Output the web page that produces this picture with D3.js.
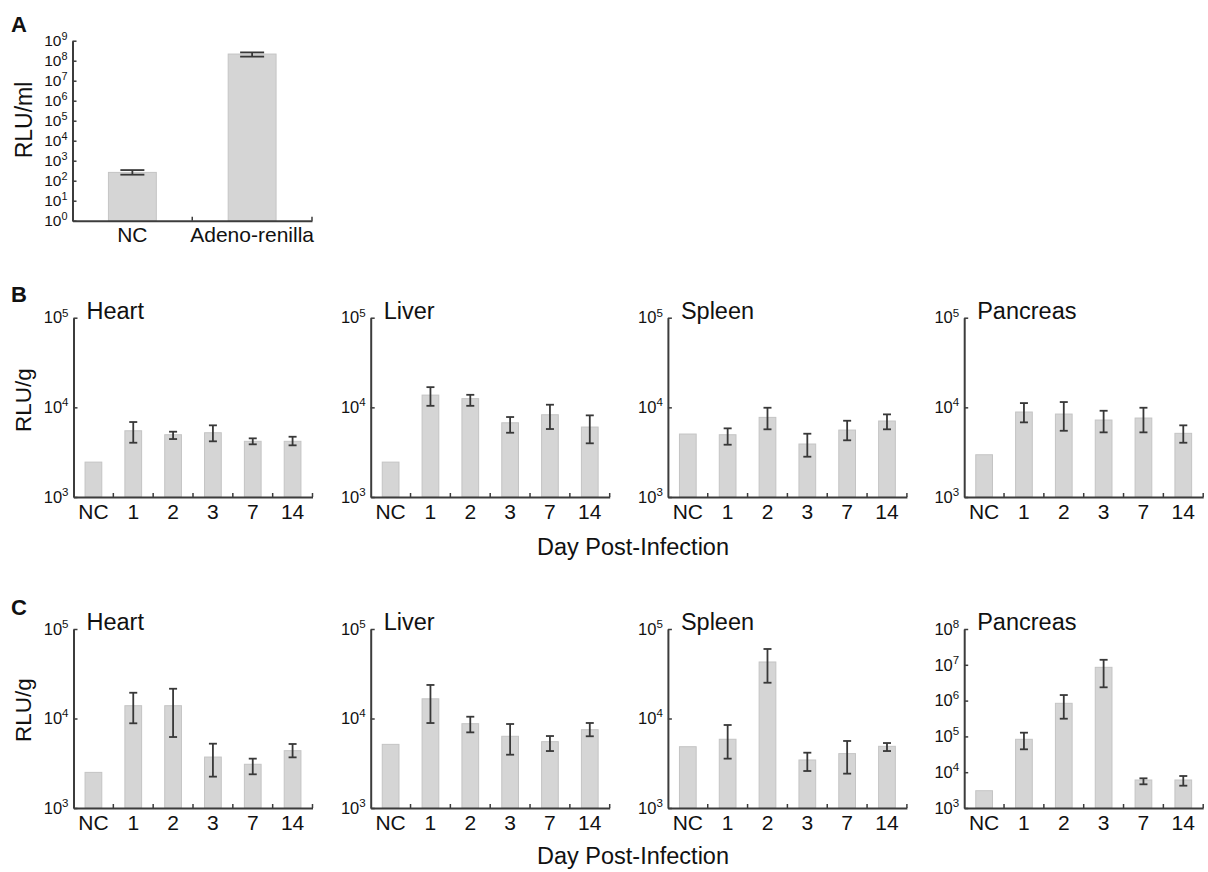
<!DOCTYPE html>
<html><head><meta charset="utf-8">
<script src="https://cdn.jsdelivr.net/npm/d3@7"></script>
<style>body{margin:0;background:#fff} svg{display:block;font-family:"Liberation Sans",Arial,sans-serif}</style>
</head><body><svg id="chart" width="1208" height="872"></svg>
<script>
// ---------- DATA ----------
const aCategories = ["NC", "Adeno-renilla"];
const aMean = [260, 2.15e8];
const aLow  = [200, 1.6e8];
const aHigh = [340, 2.6e8];
const aTicks = [1, 10, 100, 1e3, 1e4, 1e5, 1e6, 1e7, 1e8, 1e9];

const dayCategories = ["NC", "1", "2", "3", "7", "14"];
const organs = ["Heart", "Liver", "Spleen", "Pancreas"];
const tissueTicks = [1e3, 1e4, 1e5];
const pancreasCTicks = [1e3, 1e4, 1e5, 1e6, 1e7, 1e8];

// Panel B
const bHeartMean = [2450, 5480, 4950, 5210, 4180, 4180];
const bHeartLow  = [null, 4030, 4430, 4180, 3870, 3770];
const bHeartHigh = [null, 6860, 5350, 6300, 4510, 4700];
const bLiverMean = [2450, 13700, 12500, 6730, 8270, 6030];
const bLiverLow  = [null, 10400, 10400, 5210, 5730, 3970];
const bLiverHigh = [null, 16800, 13800, 7800, 10700, 8140];
const bSpleenMean = [5040, 4950, 7730, 3900, 5580, 7040];
const bSpleenLow  = [null, 3830, 5690, 2815, 4290, 5690];
const bSpleenHigh = [null, 5830, 9900, 5080, 7090, 8350];
const bPancreasMean = [2960, 8870, 8420, 7220, 7600, 5130];
const bPancreasLow  = [null, 6800, 5480, 5260, 5260, 4030];
const bPancreasHigh = [null, 11160, 11460, 9160, 9900, 6300];

// Panel C
const cHeartMean = [2500, 13900, 13900, 3710, 3080, 4370];
const cHeartLow  = [null, 8840, 6210, 2240, 2380, 3680];
const cHeartHigh = [null, 19400, 21500, 5230, 3560, 5190];
const cLiverMean = [5140, 16600, 8750, 6330, 5510, 7500];
const cLiverLow  = [null, 8900, 7000, 3940, 4330, 6330];
const cLiverHigh = [null, 23700, 10470, 8680, 6370, 8910];
const cSpleenMean = [4840, 5860, 42800, 3440, 4050, 4890];
const cSpleenLow  = [null, 3560, 25100, 2590, 2420, 4330];
const cSpleenHigh = [null, 8460, 59800, 4150, 5610, 5320];
const cPancreasMean = [3040, 83000, 8.4e5, 8.5e6, 6060, 6060];
const cPancreasLow  = [null, 43600, 3.12e5, 2.35e6, 4590, 4200];
const cPancreasHigh = [null, 127000, 1.43e6, 1.38e7, 6750, 7830];

// ---------- DRAW ----------
const svg = d3.select("#chart");
const AXIS = "#3c3c3c", BAR = "#d5d5d5", BARS = "#c4c4c4", ERR = "#383838";
const FF = "Liberation Sans, Arial, sans-serif";

function drawPanel(o) {
  const g = svg.append("g");
  const y = d3.scaleLog().domain([o.ticks[0], o.ticks[o.ticks.length - 1]]).range([o.y0 + o.h, o.y0]);
  const x = d3.scaleBand().domain(o.cats).range([o.x0, o.x0 + o.w])
    .paddingInner(o.pad).paddingOuter(o.pad / 2);

  g.selectAll("rect.bar").data(o.mean).join("rect")
    .attr("x", (d, i) => x(o.cats[i]))
    .attr("y", d => y(d))
    .attr("width", x.bandwidth())
    .attr("height", d => y.range()[0] - y(d))
    .attr("fill", BAR).attr("stroke", BARS).attr("stroke-width", 1);

  const errs = o.mean.map((d, i) => ({c: o.cats[i], lo: o.low[i], hi: o.high[i]})).filter(e => e.lo != null);
  const eg = g.selectAll("g.err").data(errs).join("g").attr("stroke", ERR).attr("stroke-width", 1.8);
  const cx = e => x(e.c) + x.bandwidth() / 2;
  eg.append("line").attr("x1", cx).attr("x2", cx).attr("y1", e => y(e.lo)).attr("y2", e => y(e.hi));
  eg.append("line").attr("x1", e => cx(e) - o.cap).attr("x2", e => cx(e) + o.cap).attr("y1", e => y(e.lo)).attr("y2", e => y(e.lo));
  eg.append("line").attr("x1", e => cx(e) - o.cap).attr("x2", e => cx(e) + o.cap).attr("y1", e => y(e.hi)).attr("y2", e => y(e.hi));

  const ya = g.append("g").attr("transform", `translate(${o.x0},0)`)
    .call(d3.axisLeft(y).tickValues(o.ticks).tickSizeInner(-4).tickSizeOuter(0).tickPadding(5));
  ya.attr("font-size", o.yFont).attr("font-family", FF);
  ya.select(".domain").attr("stroke", AXIS).attr("stroke-width", 2);
  ya.selectAll(".tick line").attr("stroke", AXIS).attr("stroke-width", 1.5);
  ya.selectAll(".tick text").attr("font-size", o.yFont).attr("fill", "#111")
    .each(function (d) {
      const t = d3.select(this);
      const e = Math.round(Math.log10(d));
      t.text(null);
      t.append("tspan").text("10");
      t.append("tspan").attr("font-size", o.yFont * 0.7).attr("dy", -o.yFont * 0.42).text(e);
    });

  const xa = g.append("g").attr("transform", `translate(0,${o.y0 + o.h})`)
    .call(d3.axisBottom(x).tickSize(0).tickPadding(o.xPad));
  xa.attr("font-size", o.xFont).attr("font-family", FF);
  xa.select(".domain").attr("stroke", AXIS).attr("stroke-width", 2);
  xa.selectAll(".tick text").attr("font-size", o.xFont).attr("fill", "#111");
  const bounds = o.cats.map(c => x(c) - x.step() * x.paddingInner() / 2).slice(1).concat([o.x0 + o.w]);
  xa.selectAll("line.bt").data(bounds).join("line")
    .attr("x1", d => d).attr("x2", d => d).attr("y1", 0).attr("y2", -4)
    .attr("stroke", AXIS).attr("stroke-width", 1.5);

  if (o.title) {
    g.append("text").attr("x", o.x0 + 13).attr("y", o.y0 + 1)
      .attr("font-size", 23.5).attr("fill", "#111").text(o.title);
  }
}

drawPanel({x0: 72.5, y0: 40.7, w: 239.5, h: 180, ticks: aTicks, cats: aCategories,
  mean: aMean, low: aLow, high: aHigh, pad: 0.6, cap: 12, xPad: 6, xFont: 21, yFont: 15.5});

const colX = [73.5, 370.7, 667.9, 964.2];
const bSets = [[bHeartMean, bHeartLow, bHeartHigh], [bLiverMean, bLiverLow, bLiverHigh],
  [bSpleenMean, bSpleenLow, bSpleenHigh], [bPancreasMean, bPancreasLow, bPancreasHigh]];
const cSets = [[cHeartMean, cHeartLow, cHeartHigh], [cLiverMean, cLiverLow, cLiverHigh],
  [cSpleenMean, cSpleenLow, cSpleenHigh], [cPancreasMean, cPancreasLow, cPancreasHigh]];

organs.forEach((org, i) => {
  drawPanel({x0: colX[i], y0: 317.7, w: 239, h: 179.3, ticks: tissueTicks, cats: dayCategories,
    mean: bSets[i][0], low: bSets[i][1], high: bSets[i][2], pad: 0.58, cap: 4, xPad: 7, xFont: 21, yFont: 16.5, title: org});
  drawPanel({x0: colX[i], y0: 629, w: 239, h: 179, ticks: i === 3 ? pancreasCTicks : tissueTicks, cats: dayCategories,
    mean: cSets[i][0], low: cSets[i][1], high: cSets[i][2], pad: 0.58, cap: 4, xPad: 7, xFont: 21, yFont: 16.5, title: org});
});

function vlabel(text, x, y, size) {
  svg.append("text").attr("transform", `translate(${x},${y}) rotate(-90)`)
    .attr("text-anchor", "middle").attr("font-size", size).attr("fill", "#111").text(text);
}
vlabel("RLU/ml", 32, 120, 23);
vlabel("RLU/g", 31, 400, 22.5);
vlabel("RLU/g", 31, 710, 22.5);

[["A", 32], ["B", 302], ["C", 615]].forEach(([t, yy]) => {
  svg.append("text").attr("x", 11).attr("y", yy).attr("font-size", 22).attr("font-weight", "bold").attr("fill", "#111").text(t);
});
[555, 864].forEach(yy => {
  svg.append("text").attr("x", 633).attr("y", yy).attr("text-anchor", "middle")
    .attr("font-size", 23.5).attr("fill", "#111").text("Day Post-Infection");
});
</script></body></html>
